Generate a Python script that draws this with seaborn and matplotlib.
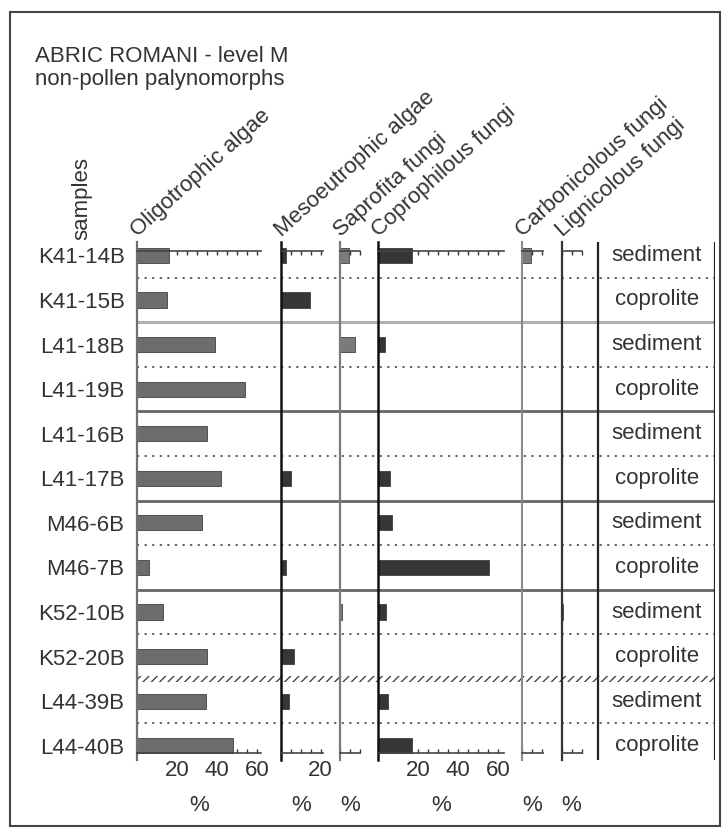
import matplotlib
matplotlib.use("Agg")
import matplotlib.pyplot as plt
from matplotlib.patches import Rectangle
from matplotlib.ticker import FixedLocator, MultipleLocator, NullFormatter
import pandas as pd
import seaborn as sns

# ---- data -------------------------------------------------------------
samples = ["K41-14B", "K41-15B", "L41-18B", "L41-19B", "L41-16B", "L41-17B",
           "M46-6B", "M46-7B", "K52-10B", "K52-20B", "L44-39B", "L44-40B"]
sample_type = ["sediment", "coprolite", "sediment", "coprolite", "sediment", "coprolite",
               "sediment", "coprolite", "sediment", "coprolite", "sediment", "coprolite"]

oligotrophic_algae = [16, 15, 39, 54, 35, 42, 32.5, 6, 13, 35, 34.5, 48]
mesoeutrophic_algae = [2.5, 14.5, 0, 0, 0, 5, 0, 2.8, 0, 6.5, 4.3, 0]
saprofita_fungi = [4.5, 0, 7.5, 0, 0, 0, 0, 0, 0.8, 0, 0, 0]
coprophilous_fungi = [17, 0, 3.3, 0, 0, 6, 6.8, 55.5, 3.8, 0, 5.2, 17]
carbonicolous_fungi = [4.7, 0, 0, 0, 0, 0, 0, 0, 0, 0, 0, 0]
lignicolous_fungi = [0, 0, 0, 0, 0, 0, 0, 0, 0.8, 0, 0, 0]

groups = ["Oligotrophic algae", "Mesoeutrophic algae", "Saprofita fungi",
          "Coprophilous fungi", "Carbonicolous fungi", "Lignicolous fungi"]

df = pd.DataFrame({
    "sample": samples,
    "type": sample_type,
    "Oligotrophic algae": oligotrophic_algae,
    "Mesoeutrophic algae": mesoeutrophic_algae,
    "Saprofita fungi": saprofita_fungi,
    "Coprophilous fungi": coprophilous_fungi,
    "Carbonicolous fungi": carbonicolous_fungi,
    "Lignicolous fungi": lignicolous_fungi,
})

# ---- styling ----------------------------------------------------------
sns.set_theme(style="white")
plt.rcParams["font.family"] = ["Liberation Sans", "DejaVu Sans"]
TXT = "#333333"
FS = 16

W, H = 728, 836
fig = plt.figure(figsize=(W / 100, H / 100), dpi=100)
fig.patch.set_facecolor("white")

PX_PER_PCT = 2.0
AX_TOP, AX_BOT = 242, 760
YLIM = (11.32, -0.30)
TOP_LINE, BOT_LINE = -0.10, 11.17


def rect(left_px, width_px):
    return [left_px / W, (H - AX_BOT) / H, width_px / W, (AX_BOT - AX_TOP) / H]


# background grid: row separators and the sample-type column
ax_bg = fig.add_axes(rect(137, 715 - 137))
ax_bg.set_xlim(137, 715)
ax_bg.set_ylim(*YLIM)
ax_bg.axis("off")
ax_bg.set_zorder(0)

boundary_style = ["dotted", "light", "dotted", "solid", "dotted", "solid",
                  "dotted", "solid", "dotted", "hatch", "dotted"]
for i, style in enumerate(boundary_style):
    y = i + 0.5
    if style == "dotted":
        ax_bg.axhline(y, color="#555555", lw=1.3, ls=(0, (1.2, 3.0)))
    elif style == "light":
        ax_bg.axhline(y, color="#b0b0b0", lw=2.2)
    elif style == "solid":
        ax_bg.axhline(y, color="#666666", lw=2.0)
    else:
        ax_bg.add_patch(Rectangle((137, y - 0.06), 715 - 137, 0.12,
                                  facecolor="none", edgecolor="#444444",
                                  hatch="////", lw=0))

ax_bg.axvline(598, color="#222222", lw=1.6)
ax_bg.axvline(715, color="#222222", lw=1.6)
for i, t in enumerate(df["type"]):
    ax_bg.text(657, i, t, ha="center", va="center", fontsize=FS, color=TXT)

# ---- panels -----------------------------------------------------------
panels = [
    # group, left px, x-max, bar colour, axis colour, axis width, labelled ticks
    ("Oligotrophic algae", 137, 62, "#6d6d6d", "#707070", 1.6, [20, 40, 60]),
    ("Mesoeutrophic algae", 280.5, 21, "#363636", "#111111", 1.8, [20]),
    ("Saprofita fungi", 340, 10, "#7a7a7a", "#7a7a7a", 1.6, []),
    ("Coprophilous fungi", 378, 63, "#363636", "#111111", 1.8, [20, 40, 60]),
    ("Carbonicolous fungi", 522, 10.5, "#7a7a7a", "#8a8a8a", 1.5, []),
    ("Lignicolous fungi", 561.5, 10, "#555555", "#333333", 1.6, []),
]

for k, (name, left, xmax, bar_c, ax_c, ax_lw, major) in enumerate(panels):
    ax = fig.add_axes(rect(left, xmax * PX_PER_PCT))
    ax.set_zorder(2 + k)
    ax.patch.set_alpha(0)
    sns.barplot(data=df, x=name, y="sample", orient="h", color=bar_c,
                width=0.34, saturation=1, edgecolor="#2a2a2a", linewidth=0.5,
                ax=ax)
    ax.set_xlim(0, xmax)
    ax.set_ylim(*YLIM)
    ax.set_xlabel("")
    ax.set_ylabel("")

    for s in ("right",):
        ax.spines[s].set_visible(False)
    ax.spines["left"].set_color(ax_c)
    ax.spines["left"].set_linewidth(ax_lw)
    for s, pos in (("top", TOP_LINE), ("bottom", BOT_LINE)):
        ax.spines[s].set_visible(True)
        ax.spines[s].set_position(("data", pos))
        ax.spines[s].set_bounds(0, xmax)
        ax.spines[s].set_color("#444444")
        ax.spines[s].set_linewidth(1.2)

    ax.xaxis.set_major_locator(FixedLocator(major))
    ax.xaxis.set_minor_locator(MultipleLocator(5))
    ax.xaxis.set_minor_formatter(NullFormatter())
    ax.tick_params(axis="x", which="both", direction="in", length=3,
                   width=1.0, color="#333333", top=True, bottom=True,
                   labeltop=False, labelbottom=True, labelsize=FS,
                   labelcolor=TXT, pad=5)

    if k == 0:
        ax.tick_params(axis="y", length=0, pad=9, labelsize=FS, labelcolor=TXT)
    else:
        ax.tick_params(axis="y", length=0, labelleft=False)

    ax.text(0.5, -0.087, "%", transform=ax.transAxes, ha="center",
            va="center", fontsize=FS, color=TXT)
    ax.annotate(name, xy=(0, 1), xycoords="axes fraction", xytext=(3, 1),
                textcoords="offset points", rotation=42, rotation_mode="anchor",
                ha="left", va="bottom", fontsize=FS, color=TXT)

# ---- titles and frame -------------------------------------------------
fig.text(35 / W, 1 - 62 / H, "ABRIC ROMANI - level M", ha="left",
         va="baseline", fontsize=FS, color=TXT)
fig.text(35 / W, 1 - 85 / H, "non-pollen palynomorphs", ha="left",
         va="baseline", fontsize=FS, color=TXT)
fig.text(82 / W, 1 - 240 / H, "samples", rotation=90, ha="center",
         va="bottom", fontsize=FS, color=TXT)

fig.add_artist(Rectangle((10 / W, (H - 826) / H), 710 / W, 814 / H,
                         transform=fig.transFigure, fill=False,
                         edgecolor="#444444", lw=1.5))

fig.savefig("out.png", dpi=100, facecolor="white")
